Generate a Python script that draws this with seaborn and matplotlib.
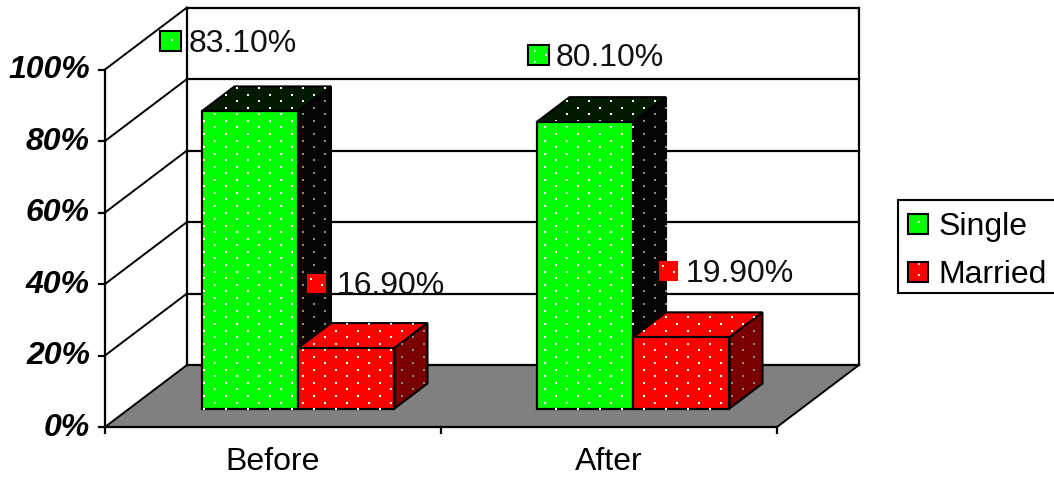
import numpy as np
import pandas as pd
import seaborn as sns
import matplotlib
matplotlib.use("Agg")
import matplotlib.pyplot as plt
from matplotlib.patches import Polygon, Patch, Rectangle
from matplotlib.path import Path
from matplotlib.transforms import Affine2D

# Survey shares by period
periods = ["Before", "After"]
statuses = ["Single", "Married"]
single_share = [83.1, 80.1]
married_share = [16.9, 19.9]
axis_ticks = [0, 20, 40, 60, 80, 100]

W, H = 1054, 477
sns.set_theme(style="white")
plt.rcParams["font.family"] = ["Liberation Sans", "DejaVu Sans"]
FS = 23.0

# The small excess keeps the canvas from rounding down a pixel
fig = plt.figure(figsize=((W + 0.2) / 100, (H + 0.2) / 100), dpi=100, facecolor="white")
ax = fig.add_axes([0, 0, 1, 1])

# Screen-space transform (y downward) for the box drawn around the bars
pix = Affine2D().scale(1, -1).translate(0, H)

# Depth vectors of the box and of each bar, in screen units
FLOOR_X, FLOOR_Y = 105, 427
BOX_W, DEPTH_X, DEPTH_Y = 672, 82, -62
BAR_DX, BAR_DY = 33, -25
UNIT = 3.575  # screen units per percentage point


def yfront(v):
    return FLOOR_Y - v * UNIT


def line(xs, ys, lw=1.6, z=2):
    ax.plot(xs, ys, color="black", lw=lw, transform=pix, zorder=z,
            solid_capstyle="projecting", clip_on=False)


def face(pts, color, z):
    ax.add_patch(Polygon(pts, closed=True, facecolor=color, edgecolor="black",
                         lw=1.5, transform=pix, zorder=z, joinstyle="miter"))


def dots(pts, color, z, phase=(5, 2)):
    # Staggered speckle across one face of a bar
    path = Path(pts)
    xmin, ymin = np.min(pts, axis=0)
    xmax, ymax = np.max(pts, axis=0)
    out = []
    for r in np.arange(int(ymin // 6.55) - 1, int(ymax // 6.55) + 2):
        y = np.round(r * 6.55 + phase[1]) + 0.5
        shift = (r % 2) * 11 + phase[0]
        for x in np.arange((xmin // 22 - 1) * 22 + shift, xmax + 22, 22):
            out.append((x + 0.5, y))
    inner = np.array([p for p in out if path.contains_point(p, radius=0)])
    ax.scatter(inner[:, 0], inner[:, 1], s=3.0, marker="s", color=color,
               linewidths=0, transform=pix, zorder=z, clip_on=False)


# Back wall, floor and side wall
bx0 = FLOOR_X + DEPTH_X
by0 = FLOOR_Y + DEPTH_Y
ax.add_patch(Polygon([(FLOOR_X, FLOOR_Y), (FLOOR_X + BOX_W, FLOOR_Y),
                      (bx0 + BOX_W - 1, by0), (bx0, by0)], closed=True,
                     facecolor="#808080", edgecolor="none", transform=pix, zorder=1))
for t in axis_ticks:
    yf = yfront(t)
    line([FLOOR_X, bx0], [yf, yf + DEPTH_Y], lw=1.4)
    line([bx0, bx0 + BOX_W], [yf + DEPTH_Y, yf + DEPTH_Y])
    line([FLOOR_X - 6, FLOOR_X], [yf, yf])
    ax.text(90, yf + 0.5, f"{t}%", transform=pix, ha="right", va="center",
            fontsize=FS, fontweight="bold", fontstyle="italic", color="black",
            family="Liberation Sans")
line([FLOOR_X, FLOOR_X], [yfront(100), FLOOR_Y])
line([bx0, bx0], [yfront(100) + DEPTH_Y, by0])
line([bx0 + BOX_W, bx0 + BOX_W], [yfront(100) + DEPTH_Y, by0])
line([FLOOR_X, FLOOR_X + BOX_W], [FLOOR_Y, FLOOR_Y])
line([FLOOR_X + BOX_W, bx0 + BOX_W], [FLOOR_Y, by0], lw=1.4)
for i in range(3):
    tx = FLOOR_X + i * BOX_W / 2
    line([tx, tx], [FLOOR_Y, FLOOR_Y + 6])
for i, name in enumerate(periods):
    ax.text(FLOOR_X + (i + 0.5) * BOX_W / 2, 462, name, transform=pix,
            ha="center", va="center", fontsize=FS, color="black")

# Front faces of the bars
table = pd.DataFrame({
    "Period": periods * 2,
    "Status": [statuses[0]] * 2 + [statuses[1]] * 2,
    "Share": single_share + married_share,
})
colors = {"Single": "#00FF00", "Married": "#FF0000"}
sns.barplot(data=table, x="Period", y="Share", hue="Status", order=periods,
            hue_order=statuses, palette=colors, width=0.576, saturation=1,
            edgecolor="black", linewidth=1.6, errorbar=None, legend=False, ax=ax)
fig_h = fig.get_figheight() * 100
fig_w = fig.get_figwidth() * 100
ax.set_xlim(-298 / 335, (fig_w - 298) / 335)
ax.set_ylim((408.5 - H) / UNIT, (408.5 - H + fig_h) / UNIT)
ax.set_axis_off()

# Extrude each bar into the chart depth
shades = {"Single": ("#021A02", "#050505"), "Married": ("#FF0000", "#7A0000")}
bars = sorted((b for b in ax.patches if isinstance(b, Rectangle)), key=lambda b: b.get_x())
for n, b in enumerate(bars):
    status = statuses[n % 2]
    x0, y0 = pix.inverted().transform(ax.transData.transform((b.get_x(), 0)))
    x1, y1 = pix.inverted().transform(
        ax.transData.transform((b.get_x() + b.get_width(), b.get_height())))
    z = 3 + n * 2
    top_c, side_c = shades[status]
    top_pts = np.array([(x0, y1), (x1, y1), (x1 + BAR_DX, y1 + BAR_DY), (x0 + BAR_DX, y1 + BAR_DY)])
    side_pts = np.array([(x1, y1), (x1 + BAR_DX, y1 + BAR_DY), (x1 + BAR_DX, y0 + BAR_DY), (x1, y0)])
    front_pts = np.array([(x0, y0), (x1, y0), (x1, y1), (x0, y1)])
    face(top_pts, top_c, z)
    face(side_pts, side_c, z)
    dots(top_pts, "white", z + 0.5)
    dots(side_pts, "#8A8A8A", z + 0.5)
    b.set_zorder(z + 1)
    dots(front_pts, "white", z + 1.5)

# Value labels with their colour keys
label_text = ["83.10%", "80.10%", "16.90%", "19.90%"]
label_xy = [(189, 43.5), (556, 58), (337, 285.5), (686, 273.5)]
key_boxes = [(160, 31, 21, 20), (528, 45, 21, 20), (308, 275, 17, 17), (660, 262, 17, 18)]
key_colors = ["#00FF00", "#00FF00", "#FF0000", "#FF0000"]
key_edges = ["black", "black", "#FF0000", "#FF0000"]
key_specks = [[(172, 40)], [(535, 51), (535, 62), (546, 55)],
              [(311, 279), (322, 285)], [(663, 266), (674, 272)]]
for txt, (lx, ly), (kx, ky, kw, kh), kc, ke, sp in zip(
        label_text, label_xy, key_boxes, key_colors, key_edges, key_specks):
    ax.text(lx, ly, txt, transform=pix, ha="left", va="center", fontsize=FS,
            color="#111111", zorder=20)
    ax.add_patch(Polygon([(kx, ky), (kx + kw, ky), (kx + kw, ky + kh), (kx, ky + kh)],
                         closed=True, facecolor=kc, edgecolor=ke, lw=1.5,
                         transform=pix, zorder=20))
    sp = np.array(sp)
    ax.scatter(sp[:, 0], sp[:, 1], s=3.0, marker="s", color="white", linewidths=0,
               transform=pix, zorder=21)

# Legend: frame runs off the right edge of the figure
ax.add_patch(Polygon([(898, 200), (1060, 200), (1060, 293), (898, 293)], closed=True,
                     facecolor="white", edgecolor="black", lw=1.5, transform=pix,
                     zorder=29))
handles = [Patch(facecolor=colors[s], edgecolor="black", lw=1.5, label=s) for s in statuses]
leg = ax.legend(handles=handles, loc="upper left",
                bbox_to_anchor=(898 / fig_w, (H - 202) / fig_h), bbox_transform=fig.transFigure,
                fontsize=FS, frameon=False, borderaxespad=0, borderpad=0.32,
                handlelength=0.62, handleheight=0.62, handletextpad=0.33,
                labelspacing=0.56, labelcolor="black")
leg.set_zorder(30)
legend_specks = np.array([(919, 222), (919, 264), (919, 275)])
ax.scatter(legend_specks[:, 0], legend_specks[:, 1], s=3.0, marker="s", color="white",
           linewidths=0, transform=pix, zorder=31)

fig.savefig("out.png", dpi=100)
